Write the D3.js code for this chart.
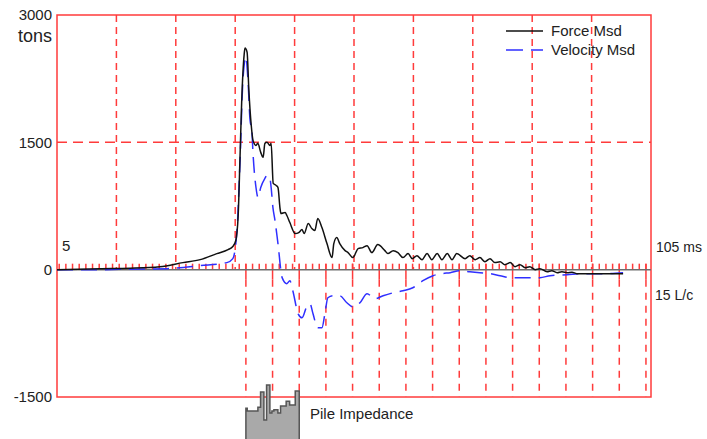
<!DOCTYPE html>
<html>
<head>
<meta charset="utf-8">
<script src="https://cdn.jsdelivr.net/npm/d3@7"></script>
<style>
  html, body { margin: 0; padding: 0; background: #fff; }
  svg { display: block; font-family: "Liberation Sans", Arial, sans-serif; }
</style>
</head>
<body>
<div id="chart"></div>
<script>
// ── Data ─────────────────────────────────────────────────────────────────────

const yTickValues = [3000, 1500, 0, -1500];
const timeDomain = [5, 105];      // ms
const forceDomain = [-1500, 3000]; // tons
const impactTime = 36.8;          // ms, where the L/c grid starts
const lcDuration = 4.49;          // ms for one L/c
const lcCount = 15;

// [time ms, tons]
const forceMsd = [
  [5.0, 0], [12.2, 12], [17.3, 18], [22.3, 35], [26.2, 83], [29.1, 118], [31.9, 189],
  [33.8, 236], [34.6, 272], [35.1, 343], [35.5, 638], [35.8, 1299], [36.1, 1996],
  [36.5, 2527], [36.65, 2610], [37.0, 2563], [37.3, 2114], [37.7, 1701], [38.0, 1523],
  [38.5, 1464], [38.8, 1488], [39.3, 1382], [39.7, 1323], [40.0, 1488], [40.35, 1500],
  [40.85, 1464], [41.05, 1488], [41.4, 1016], [41.9, 992], [42.2, 968], [42.55, 720],
  [42.7, 661], [43.4, 673], [43.7, 638], [44.2, 555], [45.1, 425], [45.7, 437],
  [46.25, 472], [46.6, 425], [47.3, 543], [47.9, 484], [48.4, 461], [48.9, 602],
  [49.6, 496], [50.45, 307], [51.3, 142], [51.6, 307], [52.1, 378], [52.6, 307],
  [53.5, 224], [54.0, 201], [54.8, 142], [55.7, 248], [56.5, 260], [57.2, 283],
  [58.0, 201], [59.0, 295], [60.2, 224], [60.7, 189], [61.6, 224], [62.4, 201],
  [63.25, 142], [64.1, 189], [64.8, 130], [65.6, 165], [66.45, 118], [67.3, 189],
  [68.1, 118], [69.0, 189], [69.8, 118], [70.7, 189], [71.5, 118], [72.3, 189],
  [73.7, 130], [74.5, 165], [75.4, 118], [76.2, 142], [77.05, 94], [77.9, 130],
  [78.7, 83], [79.6, 94], [80.4, 59], [81.3, 83], [82.1, 35], [82.95, 59], [83.8, 24],
  [84.6, 35], [85.5, 0], [86.3, 12], [87.5, -24], [88.3, -12], [89.2, -35], [90.0, -24],
  [90.9, -35], [91.7, -30], [92.5, -47], [94.7, -47], [96.9, -47], [99.3, -47], [100.3, -47]
];

const velocityMsd = [
  [5.0, 0], [12.2, 0], [17.3, 6], [23.5, 12], [29.1, 47], [33.6, 83], [34.6, 130],
  [35.3, 461], [35.8, 1252], [36.3, 2232], [36.8, 2504], [37.15, 2232], [37.5, 1760],
  [37.8, 1642], [38.0, 1370], [38.5, 968], [38.85, 850], [39.3, 968], [40.0, 1075],
  [40.35, 1110], [40.85, 1075], [41.05, 968], [41.35, 732], [41.7, 579], [42.2, 307],
  [42.9, -94], [43.7, -165], [44.2, -130], [44.7, -248], [45.6, -520], [46.25, -567],
  [47.1, -425], [47.6, -402], [48.1, -520], [48.9, -685], [49.6, -685], [50.1, -520],
  [50.6, -331], [51.5, -307], [52.6, -307], [53.8, -390], [54.8, -437], [56.0, -390],
  [57.2, -283], [58.5, -342], [59.9, -307], [61.6, -272], [63.25, -248], [64.9, -213],
  [66.6, -130], [68.3, -71], [69.8, -47], [71.2, -35], [72.8, -12], [74.5, -24],
  [76.2, -35], [77.9, -47], [79.6, -71], [81.3, -94], [84.6, -94], [86.3, -94],
  [88.0, -71], [90.9, -59], [93.5, -47], [96.4, -47], [100.3, -35]
];

// pile impedance profile: segment edges in L/c, relative impedance in %
const impedanceEdges = [0, 0.05, 0.45, 0.55, 0.675, 0.775, 0.9, 0.975, 1.05, 1.2, 1.3, 1.51, 1.64, 1.85, 2.0];
const impedanceValues = [57, 52, 59, 87, 35, 100, 48, 52, 54, 48, 61, 70, 63, 89];

// ── Chart ────────────────────────────────────────────────────────────────────

const W = 707, H = 439;
const red = "#ff3b3b";
const plot = { left: 57, right: 651, top: 15, bottom: 397 };

const svg = d3.select("#chart").append("svg").attr("width", W).attr("height", H);

const x = d3.scaleLinear().domain(timeDomain).range([plot.left, plot.right]);
const y = d3.scaleLinear().domain(forceDomain).range([plot.bottom, plot.top]);
const lc = d3.scaleLinear().domain([0, 1]).range([x(impactTime), x(impactTime + lcDuration)]);
const imp = d3.scaleLinear().domain([0, 100]).range([H, 385]);

const y0 = y(0);
const grid = svg.append("g");

// upper time gridlines every 10 ms
for (const t of d3.range(timeDomain[0] + 10, timeDomain[1], 10)) {
  grid.append("line")
    .attr("x1", x(t)).attr("x2", x(t)).attr("y1", plot.top).attr("y2", y0)
    .attr("stroke", red).attr("stroke-width", 1.5).attr("stroke-dasharray", "7,5");
}

// horizontal gridline at 1500
grid.append("line")
  .attr("x1", plot.left).attr("x2", plot.right).attr("y1", y(1500)).attr("y2", y(1500))
  .attr("stroke", red).attr("stroke-width", 1.5).attr("stroke-dasharray", "10,6");

// lower L/c gridlines
for (const k of d3.range(0, lcCount + 1)) {
  grid.append("line")
    .attr("x1", lc(k)).attr("x2", lc(k)).attr("y1", y0 + 10).attr("y2", plot.bottom)
    .attr("stroke", red).attr("stroke-width", 1.5).attr("stroke-dasharray", "7,6");
  grid.append("line")
    .attr("x1", lc(k)).attr("x2", lc(k)).attr("y1", y0 - 6).attr("y2", y0 + 10)
    .attr("stroke", red).attr("stroke-width", 1.5);
}

// quarter L/c ticks along the zero line
const firstTick = Math.ceil(lc.invert(plot.left) * 4) / 4;
for (const k of d3.range(firstTick, lcCount + 0.01, 0.25)) {
  grid.append("line")
    .attr("x1", lc(k)).attr("x2", lc(k)).attr("y1", y0 - 6).attr("y2", y0)
    .attr("stroke", red).attr("stroke-width", 1.5);
}

// frame
svg.append("rect")
  .attr("x", plot.left).attr("y", plot.top)
  .attr("width", plot.right - plot.left).attr("height", plot.bottom - plot.top)
  .attr("fill", "none").attr("stroke", red).attr("stroke-width", 1.5);

// zero line
svg.append("line")
  .attr("x1", plot.left).attr("x2", plot.right).attr("y1", y0).attr("y2", y0)
  .attr("stroke", "#6e6e6e").attr("stroke-width", 1.5);

// curves
const line = d3.line().x((d) => x(d[0])).y((d) => y(d[1])).curve(d3.curveMonotoneX);

svg.append("path").datum(velocityMsd)
  .attr("d", line).attr("fill", "none")
  .attr("stroke", "#2f2fff").attr("stroke-width", 1.5).attr("stroke-dasharray", "16,8");

svg.append("path").datum(forceMsd)
  .attr("d", line).attr("fill", "none")
  .attr("stroke", "#111").attr("stroke-width", 1.5);

// pile impedance
const impPts = [[lc(impedanceEdges[0]), H]];
impedanceValues.forEach((v, i) => {
  impPts.push([lc(impedanceEdges[i]), imp(v)]);
  impPts.push([lc(impedanceEdges[i + 1]), imp(v)]);
});
impPts.push([lc(impedanceEdges[impedanceEdges.length - 1]), H]);
svg.append("path")
  .attr("d", d3.line()(impPts))
  .attr("fill", "#a9a9a9").attr("stroke", "#555").attr("stroke-width", 1.5);

svg.append("text").attr("x", 310).attr("y", 419)
  .attr("font-size", "15px").attr("fill", "#222").text("Pile Impedance");

// y labels
const labels = svg.append("g").attr("font-size", "15px").attr("fill", "#222");
for (const v of yTickValues) {
  labels.append("text")
    .attr("x", 52).attr("y", y(v)).attr("dy", "0.36em")
    .attr("text-anchor", "end").text(v);
}
labels.append("text").attr("x", 52).attr("y", 42).attr("text-anchor", "end")
  .attr("font-size", "18px").text("tons");
labels.append("text").attr("x", 62).attr("y", 251).text(timeDomain[0]);
labels.append("text").attr("x", 656).attr("y", 252).attr("font-size", "14px").text(`${timeDomain[1]} ms`);
labels.append("text").attr("x", 655).attr("y", 300).attr("font-size", "14px").text(`${lcCount} L/c`);

// legend
const legend = svg.append("g").attr("font-size", "15px").attr("fill", "#222");
legend.append("line").attr("x1", 506).attr("x2", 543).attr("y1", 31).attr("y2", 31)
  .attr("stroke", "#111").attr("stroke-width", 1.5);
legend.append("text").attr("x", 551).attr("y", 36).text("Force Msd");
legend.append("line").attr("x1", 506).attr("x2", 543).attr("y1", 50).attr("y2", 50)
  .attr("stroke", "#2f2fff").attr("stroke-width", 1.5).attr("stroke-dasharray", "17,8");
legend.append("text").attr("x", 551).attr("y", 55).text("Velocity Msd");
</script>
</body>
</html>
